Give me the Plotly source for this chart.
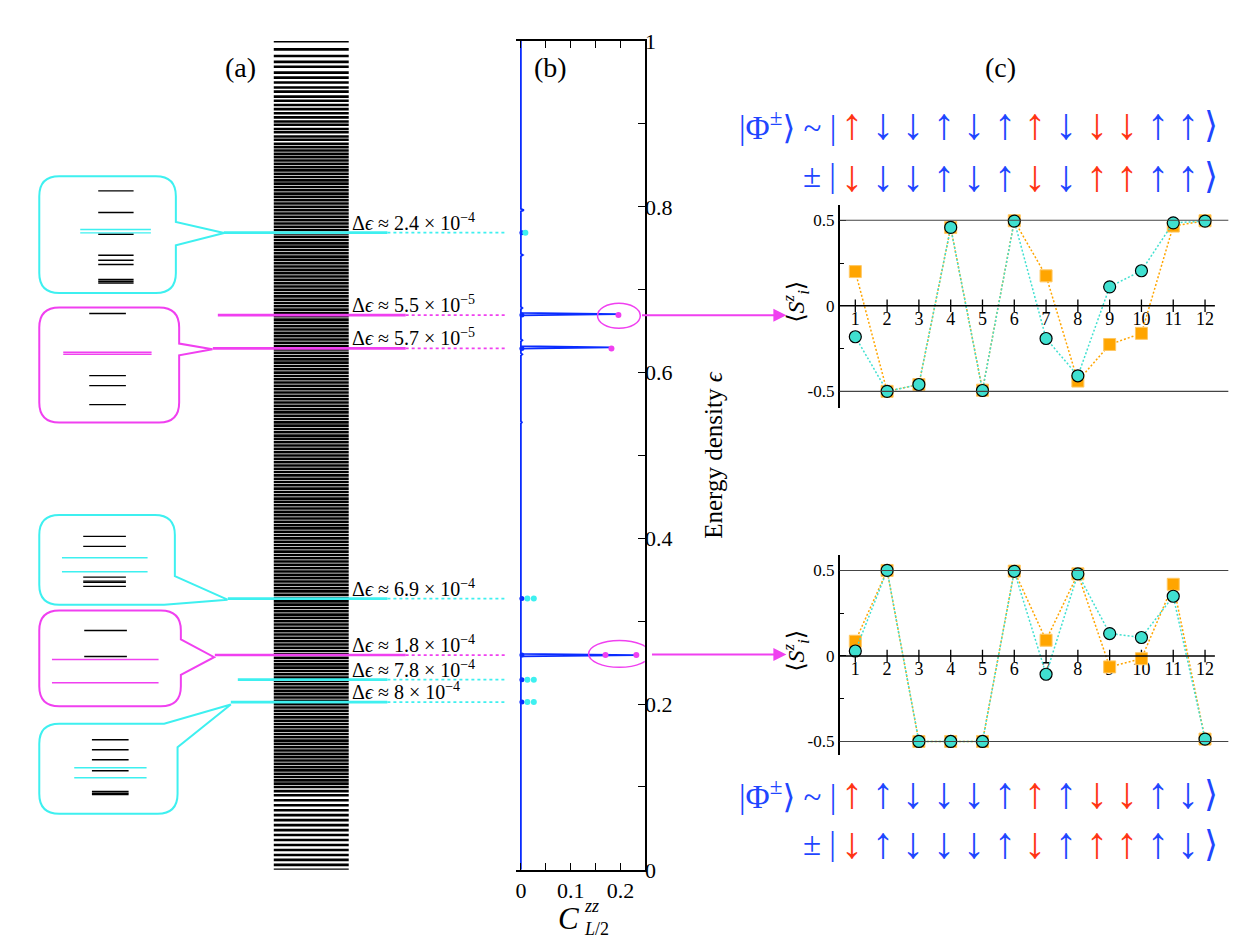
import plotly.graph_objects as go

W, H = 1249, 944
SERIF = "Liberation Serif, DejaVu Serif, serif"
CYAN = "#3ef0f0"
MAG = "#f040f0"
BLUE = "#0a2cff"
RED = "#ff3414"
KBLUE = "#1f46ff"
ORANGE = "#ffa500"
TURQ = "#40e0d0"

# ---------------- data ----------------
# panel (a): energy levels (energy density, in units of 1e-3)
levels_pm = [1000, 990, 982, 975, 969, 962, 956, 950, 944, 939, 933, 928, 923, 918, 913, 908, 903,
             899, 894, 890, 885, 881, 876, 872, 868, 864, 860, 856, 852, 848, 844, 840, 836, 832,
             828, 824, 820, 816, 812, 808, 804, 800, 796, 792, 788, 784, 780, 776, 772, 768, 764,
             760, 756, 752, 748, 744, 740, 736, 732, 728, 724, 720, 716, 712, 708, 704, 700, 696,
             692, 688, 684, 680, 676, 672, 668, 664, 660, 656, 652, 648, 644, 640, 636, 632, 628,
             624, 620, 616, 612, 608, 604, 600, 596, 592, 588, 584, 580, 576, 572, 568, 564, 560,
             556, 552, 548, 544, 540, 536, 532, 528, 524, 520, 516, 512, 508, 504, 500, 496, 492,
             488, 484, 480, 476, 472, 468, 464, 460, 456, 452, 448, 444, 440, 436, 432, 428, 424,
             420, 416, 412, 408, 404, 400, 396, 392, 388, 384, 380, 376, 372, 368, 364, 360, 356,
             352, 348, 344, 340, 336, 332, 328, 324, 320, 316, 312, 308, 304, 300, 296, 292, 288,
             284, 280, 276, 272, 268, 264, 260, 256, 252, 248, 244, 240, 236, 232, 228, 224, 220,
             216, 212, 208, 204, 200, 196, 192, 188, 184, 180, 176, 172, 168, 164, 160, 156, 152,
             148, 144, 140, 136, 132, 128, 124, 120, 116, 112, 108, 104, 100, 95, 90, 84, 78, 72,
             66, 60, 54, 48, 42, 36, 30, 24, 18, 12, 6, 0]

# selected (near-degenerate) states
sel_eps = [0.7689, 0.6694, 0.6292, 0.3273, 0.2592, 0.2295, 0.2024]
sel_kind = ["c", "m", "m", "c", "m", "c", "c"]
sel_gap = ["2.4 × 10<sup>−4</sup>", "5.5 × 10<sup>−5</sup>", "5.7 × 10<sup>−5</sup>",
           "6.9 × 10<sup>−4</sup>", "1.8 × 10<sup>−4</sup>", "7.8 × 10<sup>−4</sup>",
           "8 × 10<sup>−4</sup>"]
sel_start = [223, 217, 212, 227, 214, 237, 230]   # where the connector leaves the callout

# panel (b): C^zz_{L/2} spikes along the spectrum
spike_eps = [0.2024, 0.2295, 0.2592, 0.3273, 0.540, 0.622, 0.6304, 0.639, 0.6706, 0.678, 0.742, 0.796]
spike_c = [0.006, 0.006, 0.233, 0.006, 0.002, 0.003, 0.182, 0.003, 0.196, 0.003, 0.004, 0.006]
mag_c = [0.196, 0.182, 0.170, 0.232]
mag_e = [0.6694, 0.6292, 0.2592, 0.2592]
cyan_c = [0.009, 0.013, 0.026, 0.013, 0.026, 0.013, 0.026]
cyan_e = [0.7689, 0.3273, 0.3273, 0.2295, 0.2295, 0.2024, 0.2024]

# panel (c): local magnetisation
sites = list(range(1, 13))
sq_top = [0.20, -0.50, -0.46, 0.458, -0.493, 0.497, 0.175, -0.44, -0.226, -0.161, 0.466, 0.497]
ci_top = [-0.181, -0.50, -0.46, 0.458, -0.495, 0.495, -0.191, -0.409, 0.111, 0.205, 0.485, 0.495]
sq_bot = [0.086, 0.50, -0.50, -0.50, -0.50, 0.496, 0.092, 0.48, -0.064, -0.016, 0.419, -0.486]
ci_bot = [0.029, 0.50, -0.50, -0.50, -0.50, 0.495, -0.107, 0.48, 0.131, 0.108, 0.349, -0.486]

spins_top1 = "↑↓↓↑↓↑↑↓↓↓↑↑"
spins_top2 = "↓↓↓↑↓↑↓↓↑↑↑↑"
spins_bot1 = "↑↑↓↓↓↑↑↑↓↓↑↓"
spins_bot2 = "↓↑↓↓↓↑↓↑↑↑↑↓"
red_sites = [1, 7, 9, 10]

# callout insets (zoomed level structure); offsets measured from the box top
insets = [
    dict(box=(38.3, 176, 175, 292.7), col=CYAN, tail=("right", 221.7, 223.3, 232.7, 245),
         black=[14.7, 36.3, 58, 79, 84, 88.3, 103.3, 105, 106.7], bspan=(97.3, 132.7),
         hi=[53.3, 56.7], hspan=(79.3, 150)),
    dict(box=(38.3, 307.3, 178.3, 422.3), col=MAG, tail=("right", 343.3, 211.7, 349, 355),
         black=[6, 68, 78, 97], bspan=(88.3, 125), hi=[44.7, 46.7], hspan=(62.3, 150.7)),
    dict(box=(38.3, 514.7, 174, 604.3), col=CYAN, tail=("br", 575.7, 226.7, 599.3, 163.3),
         black=[21.3, 31.3, 62, 66, 67.3, 71.3], bspan=(82.3, 125), hi=[42.6, 56.6], hspan=(61, 146.7)),
    dict(box=(38.3, 610, 180, 705.7), col=MAG, tail=("right", 639, 213.3, 656.7, 674.3),
         black=[20, 46], bspan=(83.3, 126), hi=[49, 72.3], hspan=(51, 157.7)),
    dict(box=(38.3, 723.3, 176.7, 813.3), col=CYAN, tail=("tr", 163.3, 230, 704, 746.7),
         black=[16, 26, 36, 47, 67.7, 69.4, 70.7], bspan=(91, 127.7), hi=[44, 54], hspan=(73.3, 145.7)),
]

# vertical calibration of the page (design pixel -> figure pixel)
YS, YO = 0.973, 11.9


# ---------------- helpers ----------------
def Y(y):
    return (y - YO) / YS


def xd(a, b):
    return [a / W, b / W]


def yd(top, bot):
    return [max(0.0, 1 - Y(bot) / H), min(1.0, 1 - Y(top) / H)]


def hid(**kw):
    d = dict(visible=False, showgrid=False, zeroline=False, fixedrange=True)
    d.update(kw)
    return d


def box_path(x0, y0, x1, y1, r, tail):
    kind = tail[0]
    p = f"M {x0 + r},{y0} "
    if kind == "tr":
        _, xa, tx, ty, yb = tail
        p += f"L {xa},{y0} L {tx},{ty} L {x1},{yb} "
    else:
        p += f"L {x1 - r},{y0} Q {x1},{y0} {x1},{y0 + r} "
    if kind == "right":
        _, ya, tx, ty, yb = tail
        p += f"L {x1},{ya} L {tx},{ty} L {x1},{yb} "
    if kind == "br":
        _, ya, tx, ty, xb = tail
        p += f"L {x1},{ya} L {tx},{ty} L {xb},{y1} "
    else:
        p += f"L {x1},{y1 - r} Q {x1},{y1} {x1 - r},{y1} "
    p += f"L {x0 + r},{y1} Q {x0},{y1} {x0},{y1 - r} L {x0},{y0 + r} Q {x0},{y0} {x0 + r},{y0} Z"
    return p


fig = go.Figure()
shapes, annos = [], []
layout = dict(width=W, height=H, autosize=False, margin=dict(l=0, r=0, t=0, b=0),
              paper_bgcolor="white", plot_bgcolor="rgba(0,0,0,0)", showlegend=False,
              font=dict(family=SERIF, color="black"))

# overlay pixel axis (in design pixels)
layout["xaxis"] = hid(domain=[0, 1], range=[0, W])
layout["yaxis"] = hid(domain=[0, 1], range=[H * YS + YO, YO], anchor="x")

# ---------------- panel (b) ----------------
c0_px, c_scale = 520.3, 498.0
bx0, bx1, btop, bbot = 515.7, 644.3, 41, 869.3
tf = dict(family=SERIF, size=22, color="black")
layout["xaxis2"] = dict(domain=xd(bx0, bx1), range=[(bx0 - c0_px) / c_scale, (bx1 - c0_px) / c_scale],
                        anchor="y2", showline=True, linecolor="black", linewidth=1.5, mirror="ticks",
                        ticks="inside", ticklen=7, tickwidth=1.3, tickcolor="black",
                        tickvals=[0, 0.1, 0.2], ticktext=["0", "0.1", "0.2"], tickfont=tf,
                        minor=dict(tickvals=[0.05, 0.15], ticks="inside", ticklen=7, tickcolor="black"),
                        showgrid=False, zeroline=False, fixedrange=True)
layout["yaxis2"] = dict(domain=yd(btop, bbot), range=[0, 1], anchor="x2", side="right",
                        showline=True, linecolor="black", linewidth=1.5, mirror=False,
                        ticks="inside", ticklen=7, tickwidth=1.3, tickcolor="black",
                        tickvals=[0, 0.2, 0.4, 0.6, 0.8, 1], ticktext=["0", "0.2", "0.4", "0.6", "0.8", "1"],
                        tickfont=tf, ticklabelstandoff=-6,
                        minor=dict(tickvals=[0.1, 0.3, 0.5, 0.7, 0.9], ticks="inside", ticklen=7,
                                   tickcolor="black"),
                        showgrid=False, zeroline=False, fixedrange=True)

lx, ly = [0.0], [0.0]
for e, c in sorted(zip(spike_eps, spike_c)):
    lx += [0.0, c, 0.0]
    ly += [e - 0.0015, e, e + 0.0015]
lx += [0.0]
ly += [1.0]
fig.add_trace(go.Scatter(x=lx, y=ly, xaxis="x2", yaxis="y2", mode="lines",
                         line=dict(color=BLUE, width=1.8)))
fig.add_trace(go.Scatter(x=[0.002] * len(sel_eps), y=sel_eps, xaxis="x2", yaxis="y2", mode="markers",
                         marker=dict(color=BLUE, size=5)))
fig.add_trace(go.Scatter(x=cyan_c, y=cyan_e, xaxis="x2", yaxis="y2", mode="markers",
                         marker=dict(color=CYAN, size=6)))
fig.add_trace(go.Scatter(x=mag_c, y=mag_e, xaxis="x2", yaxis="y2", mode="markers",
                         marker=dict(color=MAG, size=6)))
for (cx0, cx1, ey0, ey1) in [(0.154, 0.240, 0.6536, 0.6838), (0.136, 0.260, 0.2444, 0.2769)]:
    shapes.append(dict(type="circle", xref="x2", yref="y2", x0=cx0, x1=cx1, y0=ey0, y1=ey1,
                       line=dict(color=MAG, width=1.5)))
for (ax, ay, x, y) in [(640, 315, 786, 315), (650, 654, 786, 654)]:
    annos.append(dict(xref="x", yref="y", axref="x", ayref="y", x=x, y=y, ax=ax, ay=ay, text="",
                      showarrow=True, arrowhead=2, arrowsize=1.3, arrowwidth=2, arrowcolor=MAG))

# axis titles for (b)
annos.append(dict(xref="x", yref="y", x=713, y=455, text="Energy density <i>ϵ</i>", textangle=-90,
                  showarrow=False, font=dict(family=SERIF, size=25)))
annos.append(dict(xref="x", yref="y", x=580.5, y=918, xanchor="right", text="<i>C</i>", showarrow=False,
                  font=dict(family=SERIF, size=31)))
annos.append(dict(xref="x", yref="y", x=581, y=917, xanchor="left", align="left", showarrow=False,
                  text="<i>zz</i><br><i>L</i>/2", font=dict(family=SERIF, size=18)))

# ---------------- panel (a) ----------------
layout["xaxis3"] = hid(domain=xd(0, 515), range=[0, 515], anchor="y3")
layout["yaxis3"] = hid(domain=yd(btop, bbot), range=[0, 1], anchor="x3")
levels = [v / 1000 for v in levels_pm]
vx, vy = [], []
for e in levels:
    vx += [273, 348, None]
    vy += [e, e, None]
fig.add_trace(go.Scatter(x=vx, y=vy, xaxis="x3", yaxis="y3", mode="lines",
                         line=dict(color="black", width=2.6)))

for kind, colr, send in [("c", CYAN, 386.7), ("m", MAG, 405)]:
    sx, sy, dx, dy = [], [], [], []
    for e, k, s in zip(sel_eps, sel_kind, sel_start):
        if k != kind:
            continue
        sx += [s, send, None]
        sy += [e, e, None]
        dx += [send, 505, None]
        dy += [e, e, None]
    fig.add_trace(go.Scatter(x=sx, y=sy, xaxis="x3", yaxis="y3", mode="lines",
                             line=dict(color=colr, width=2.6)))
    fig.add_trace(go.Scatter(x=dx, y=dy, xaxis="x3", yaxis="y3", mode="lines",
                             line=dict(color=colr, width=1.8, dash="dot")))
for e, g in zip(sel_eps, sel_gap):
    annos.append(dict(xref="x3", yref="y3", x=349, y=e, yshift=-3, xanchor="left", yanchor="bottom",
                      text="Δ<i>ϵ</i> ≈ " + g, showarrow=False, font=dict(family=SERIF, size=20)))

# callout boxes with zoomed levels
for i, ins in enumerate(insets):
    n = 6 + i
    x0, y0, x1, y1 = ins["box"]
    shapes.append(dict(type="path", xref="x", yref="y", path=box_path(x0, y0, x1, y1, 20, ins["tail"]),
                       line=dict(color=ins["col"], width=2), fillcolor="rgba(0,0,0,0)"))
    layout[f"xaxis{n}"] = hid(domain=xd(x0, x1), range=[0, x1 - x0], anchor=f"y{n}")
    layout[f"yaxis{n}"] = hid(domain=yd(y0, y1), range=[y1 - y0, 0], anchor=f"x{n}")
    for key, span, colr, wd in [("black", ins["bspan"], "black", 1.4), ("hi", ins["hspan"], ins["col"], 1.4)]:
        xx, yy = [], []
        for v in ins[key]:
            xx += [span[0] - x0, span[1] - x0, None]
            yy += [v, v, None]
        fig.add_trace(go.Scatter(x=xx, y=yy, xaxis=f"x{n}", yaxis=f"y{n}", mode="lines",
                                 line=dict(color=colr, width=wd)))

# ---------------- panel (c) ----------------
cx0, cx1 = 839.3, 1228.3
i_scale = 31.818
xr_c = [1 - (855 - cx0) / i_scale, 12 + (cx1 - 1205) / i_scale]
for n, (top, bot, yr, sq, ci) in zip([4, 5], [(205, 407.3, [-0.595, 0.588], sq_top, ci_top),
                                             (555, 755, [-0.582, 0.588], sq_bot, ci_bot)]):
    layout[f"xaxis{n}"] = hid(domain=xd(cx0, cx1), range=xr_c, anchor=f"y{n}")
    layout[f"yaxis{n}"] = dict(domain=yd(top, bot), range=yr, anchor=f"x{n}", showline=True,
                               linecolor="black", linewidth=1.5, ticks="inside", ticklen=7,
                               tickcolor="black", tickvals=[-0.5, 0, 0.5], ticktext=["-0.5", "0", "0.5"],
                               tickfont=dict(family=SERIF, size=17),
                               minor=dict(tickvals=[-0.25, 0.25], ticks="inside", ticklen=5,
                                          tickcolor="black"),
                               showgrid=False, zeroline=False, fixedrange=True)
    for yv in (-0.5, 0.5):
        shapes.append(dict(type="line", xref=f"x{n} domain", yref=f"y{n}", x0=0, x1=1, y0=yv, y1=yv,
                           line=dict(color="#444444", width=1.1)))
    shapes.append(dict(type="line", xref=f"x{n}", yref=f"y{n}", x0=xr_c[0], x1=12.31, y0=0, y1=0,
                       line=dict(color="black", width=1.6)))
    fig.add_trace(go.Scatter(x=sites, y=[0] * 12, xaxis=f"x{n}", yaxis=f"y{n}", mode="markers",
                             marker=dict(symbol="line-ns", size=9, line=dict(color="black", width=1.3))))
    fig.add_trace(go.Scatter(x=sites, y=[-0.035] * 12, xaxis=f"x{n}", yaxis=f"y{n}", mode="text",
                             text=[str(s) for s in sites], textposition="bottom center",
                             textfont=dict(family=SERIF, size=18)))
    fig.add_trace(go.Scatter(x=sites, y=sq, xaxis=f"x{n}", yaxis=f"y{n}", mode="lines+markers",
                             line=dict(color=ORANGE, width=1.5, dash="2px,2px"),
                             marker=dict(symbol="square", size=12, color=ORANGE,
                                         line=dict(color="#ffc864", width=1))))
    fig.add_trace(go.Scatter(x=sites, y=ci, xaxis=f"x{n}", yaxis=f"y{n}", mode="lines+markers",
                             line=dict(color=TURQ, width=1.5, dash="2px,2px"),
                             marker=dict(symbol="circle", size=12, color=TURQ,
                                         line=dict(color="black", width=1.2))))
    ymid = (top + bot) / 2 - 5
    annos.append(dict(xref="x", yref="y", x=796, y=ymid, textangle=-90, showarrow=False,
                      text="⟨<i>S</i><sup><i>z</i></sup><sub><i>i</i></sub>⟩",
                      font=dict(family=SERIF, size=24)))

# spin configurations
arrow_x0, arrow_dx = 851.7, 30.6
for yrow, spins, prefix in [(124.5, spins_top1, "|Φ<sup>±</sup>⟩ ~ |"), (176, spins_top2, "± |"),
                            (793, spins_bot1, "|Φ<sup>±</sup>⟩ ~ |"), (843, spins_bot2, "± |")]:
    annos.append(dict(xref="x", yref="y", x=838, y=yrow, xanchor="right", showarrow=False,
                      text=prefix, font=dict(family=SERIF, size=33, color=KBLUE)))
    for k, s in enumerate(spins):
        annos.append(dict(xref="x", yref="y", x=arrow_x0 + arrow_dx * k, y=yrow, showarrow=False,
                          text=s, font=dict(family=SERIF, size=44,
                                            color=RED if (k + 1) in red_sites else KBLUE)))
    annos.append(dict(xref="x", yref="y", x=1211, y=yrow, showarrow=False, text="⟩",
                      font=dict(family=SERIF, size=36, color=KBLUE)))

# panel labels
for x, t in [(240, "(a)"), (550, "(b)"), (1000, "(c)")]:
    annos.append(dict(xref="x", yref="y", x=x, y=67, text=t, showarrow=False,
                      font=dict(family=SERIF, size=28)))

layout["shapes"] = shapes
layout["annotations"] = annos
fig.update_layout(**layout)
fig.write_html(
    "out.html",
    config={"displayModeBar": False},
    post_script=("var gd=document.getElementById('{plot_id}');"
                 "document.documentElement.style.margin='0';document.body.style.margin='0';"
                 "document.documentElement.style.overflow='hidden';document.body.style.overflow='hidden';"
                 "gd.style.position='fixed';gd.style.left='0px';gd.style.top='0px';"),
)
